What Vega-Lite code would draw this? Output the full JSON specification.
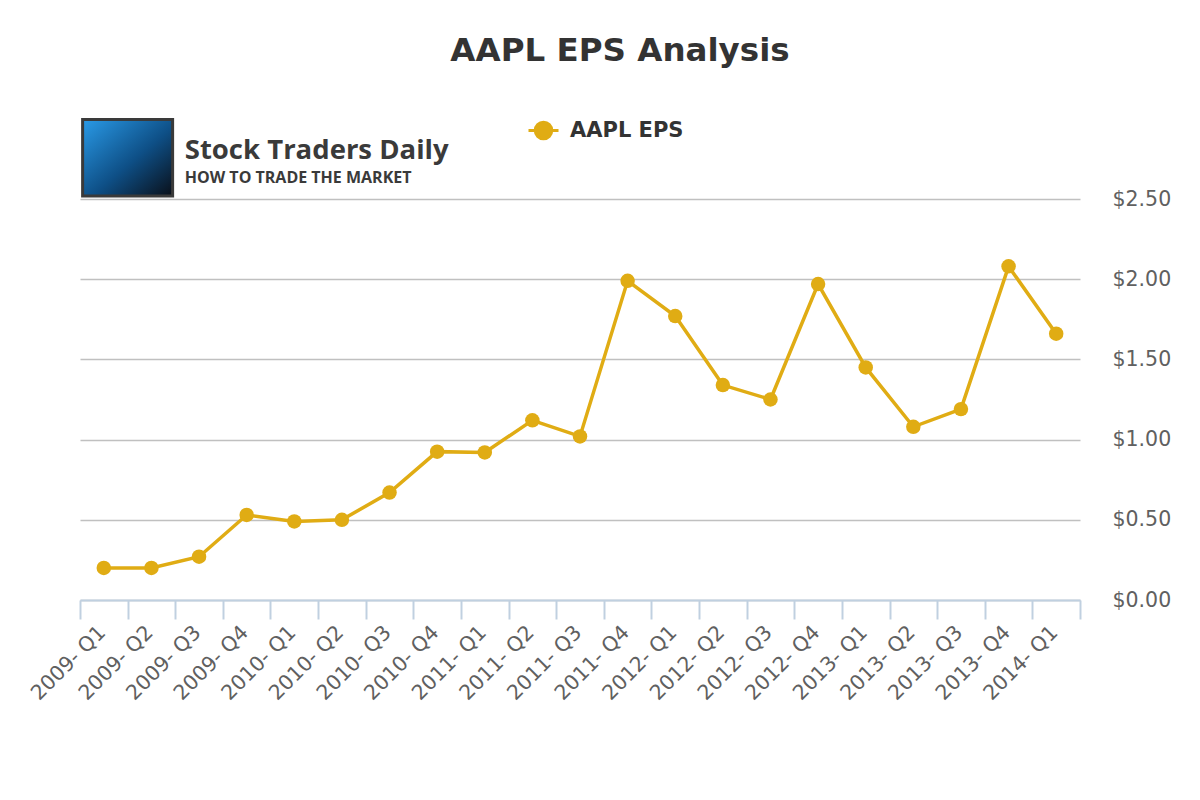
{
  "$schema": "https://vega.github.io/schema/vega-lite/v6.json",
  "background": "#FFFFFF",
  "autosize": "none",
  "width": 1000,
  "height": 401,
  "padding": {"left": 80, "top": 199, "right": 120, "bottom": 200},
  "title": {
    "text": "AAPL EPS Analysis",
    "anchor": "middle",
    "dx": 40,
    "offset": 20,
    "baseline": "alphabetic",
    "font": "DejaVu Sans",
    "fontSize": 32.5,
    "fontWeight": "bold",
    "color": "#333333"
  },
  "datasets": {
    "eps": [
      {"quarter": "2009- Q1", "eps": 0.2, "series": "AAPL EPS"},
      {"quarter": "2009- Q2", "eps": 0.2, "series": "AAPL EPS"},
      {"quarter": "2009- Q3", "eps": 0.27, "series": "AAPL EPS"},
      {"quarter": "2009- Q4", "eps": 0.53, "series": "AAPL EPS"},
      {"quarter": "2010- Q1", "eps": 0.49, "series": "AAPL EPS"},
      {"quarter": "2010- Q2", "eps": 0.5, "series": "AAPL EPS"},
      {"quarter": "2010- Q3", "eps": 0.67, "series": "AAPL EPS"},
      {"quarter": "2010- Q4", "eps": 0.925, "series": "AAPL EPS"},
      {"quarter": "2011- Q1", "eps": 0.92, "series": "AAPL EPS"},
      {"quarter": "2011- Q2", "eps": 1.12, "series": "AAPL EPS"},
      {"quarter": "2011- Q3", "eps": 1.02, "series": "AAPL EPS"},
      {"quarter": "2011- Q4", "eps": 1.99, "series": "AAPL EPS"},
      {"quarter": "2012- Q1", "eps": 1.77, "series": "AAPL EPS"},
      {"quarter": "2012- Q2", "eps": 1.34, "series": "AAPL EPS"},
      {"quarter": "2012- Q3", "eps": 1.25, "series": "AAPL EPS"},
      {"quarter": "2012- Q4", "eps": 1.97, "series": "AAPL EPS"},
      {"quarter": "2013- Q1", "eps": 1.45, "series": "AAPL EPS"},
      {"quarter": "2013- Q2", "eps": 1.08, "series": "AAPL EPS"},
      {"quarter": "2013- Q3", "eps": 1.19, "series": "AAPL EPS"},
      {"quarter": "2013- Q4", "eps": 2.08, "series": "AAPL EPS"},
      {"quarter": "2014- Q1", "eps": 1.66, "series": "AAPL EPS"}
    ],
    "logoBox": [
      {"quarter": "2009- Q2", "eps": 2.757}
    ],
    "logoText": [
      {"quarter": "2009- Q3", "eps": 2.748, "label": "Stock Traders Daily", "kind": "name"},
      {"quarter": "2009- Q3", "eps": 2.6, "label": "HOW TO TRADE THE MARKET", "kind": "tag"}
    ]
  },
  "encoding": {
    "x": {
      "field": "quarter",
      "type": "ordinal",
      "title": null,
      "scale": {"type": "band", "paddingInner": 0, "paddingOuter": 0},
      "axis": {
        "tickBand": "extent",
        "labelAngle": -45,
        "labelFontSize": 20.5,
        "labelColor": "#606060",
        "labelPadding": 3,
        "labelOffset": -9,
        "tickSize": 19,
        "tickWidth": 2,
        "tickColor": "#C0D0E0",
        "domainColor": "#C0D0E0",
        "domainWidth": 2,
        "grid": false
      }
    },
    "y": {
      "field": "eps",
      "type": "quantitative",
      "title": null,
      "scale": {"domain": [0, 2.5], "nice": false},
      "axis": {
        "orient": "right",
        "values": [0, 0.5, 1, 1.5, 2, 2.5],
        "format": "$.2f",
        "labelFontSize": 20.5,
        "labelColor": "#606060",
        "labelPadding": 32,
        "ticks": false,
        "domain": false,
        "grid": true,
        "gridColor": "#C0C0C0",
        "gridWidth": 1.5
      }
    }
  },
  "layer": [
    {
      "data": {"name": "logoBox"},
      "mark": {
        "type": "point",
        "shape": "M-1,-0.85H1V0.85H-1Z",
        "size": 8100,
        "filled": true,
        "opacity": 1,
        "fill": {
          "gradient": "linear",
          "x1": 0, "y1": 0, "x2": 1, "y2": 1,
          "stops": [
            {"offset": 0, "color": "#2A9BE8"},
            {"offset": 0.55, "color": "#0E4F86"},
            {"offset": 1, "color": "#0A0F18"}
          ]
        },
        "stroke": "#3A3A3A",
        "strokeWidth": 3
      },
      "encoding": {
        "x": {"field": "quarter", "type": "ordinal", "bandPosition": 0}
      }
    },
    {
      "data": {"name": "logoText"},
      "mark": {
        "type": "text",
        "align": "left",
        "baseline": "alphabetic",
        "font": "Open Sans",
        "fontWeight": "bold",
        "color": "#3A3A3A"
      },
      "encoding": {
        "x": {"field": "quarter", "type": "ordinal", "bandPosition": 0.2},
        "text": {"field": "label"},
        "size": {
          "field": "kind",
          "type": "nominal",
          "scale": {"domain": ["name", "tag"], "range": [27.5, 16]},
          "legend": null
        }
      }
    },
    {
      "data": {"name": "eps"},
      "mark": {"type": "line", "strokeWidth": 3.5},
      "encoding": {
        "color": {
          "field": "series",
          "type": "nominal",
          "title": null,
          "scale": {"range": ["#E0AC14"]},
          "legend": {
            "orient": "none",
            "legendX": 447,
            "legendY": -85,
            "padding": 0,
            "symbolType": "M-1,0L1,0M-0.55,0A0.55,0.55 0 1,1 0.55,0A0.55,0.55 0 1,1 -0.55,0Z",
            "symbolSize": 900,
            "symbolStrokeWidth": 3,
            "labelFontSize": 21,
            "labelFontWeight": "bold",
            "labelColor": "#333333",
            "labelFont": "DejaVu Sans",
            "labelOffset": 10,
            "encode": {
              "symbols": {
                "update": {
                  "fill": {"value": "#E0AC14"},
                  "stroke": {"value": "#E0AC14"},
                  "strokeWidth": {"value": 3},
                  "opacity": {"value": 1}
                }
              }
            }
          }
        }
      }
    },
    {
      "data": {"name": "eps"},
      "mark": {"type": "point", "filled": true, "size": 210, "opacity": 1},
      "encoding": {
        "color": {"field": "series", "type": "nominal"}
      }
    }
  ],
  "config": {
    "view": {"stroke": null},
    "font": "DejaVu Sans",
    "axis": {"labelFont": "DejaVu Sans"}
  }
}
